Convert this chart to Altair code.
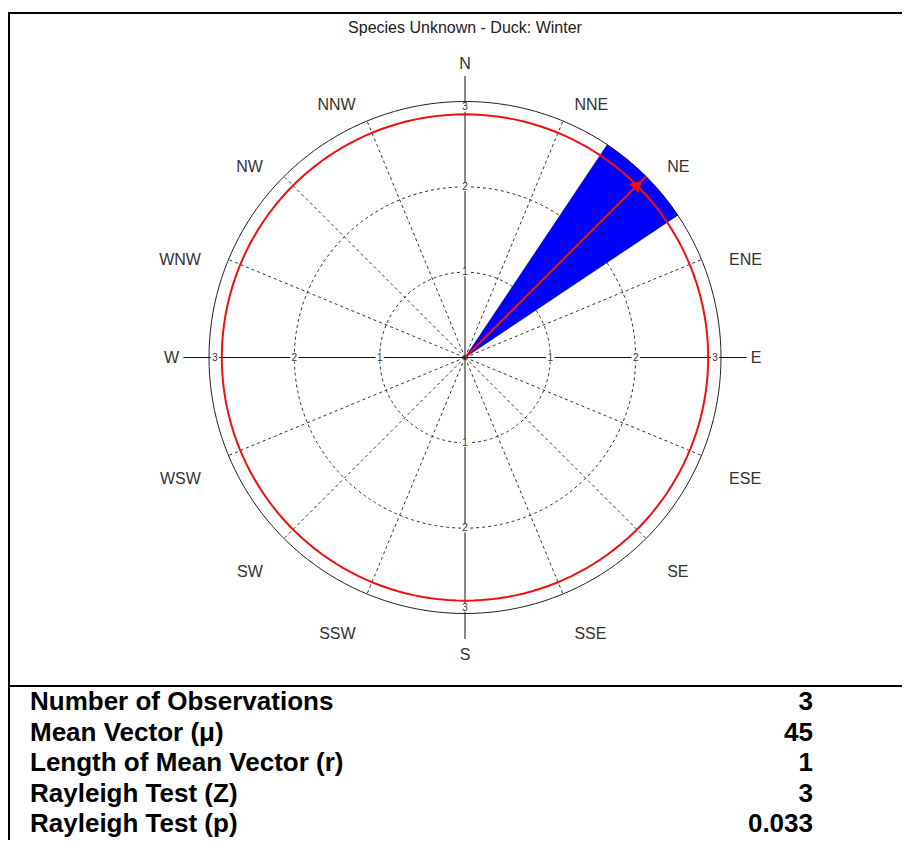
import math
import altair as alt
import numpy as np
import pandas as pd

# ---------------- data ----------------
title_text = "Species Unknown - Duck: Winter"
sectors = ["N", "NNE", "NE", "ENE", "E", "ESE", "SE", "SSE",
           "S", "SSW", "SW", "WSW", "W", "WNW", "NW", "NNW"]
counts = [0, 0, 3, 0, 0, 0, 0, 0, 0, 0, 0, 0, 0, 0, 0, 0]
ring_ticks = [1, 2, 3]
max_r = 3
red_ring_r = 2.85
mean_angle = 45
mean_length = 1
table_labels = ["Number of Observations", "Mean Vector (\u03bc)",
                "Length of Mean Vector (r)", "Rayleigh Test (Z)",
                "Rayleigh Test (p)"]
table_values = ["3", "45", "1", "3", "0.033"]

# ---------------- geometry helpers ----------------
W, H = 894, 832
cx_px, cy_px = 457, 349.5
unit = 256 / 3.0
xdom = [-cx_px / unit, (W - cx_px) / unit]
ydom = [-(H - cy_px) / unit, cy_px / unit]
xs = alt.Scale(domain=xdom, range=[0, W], nice=False, zero=False)
ys = alt.Scale(domain=ydom, range=[H, 0], nice=False, zero=False)
FONT = "Liberation Sans"
bin_w = 360 / len(sectors)

def pol(r, a):
    return r * math.sin(math.radians(a)), r * math.cos(math.radians(a))

def XY(xf="x", yf="y"):
    return dict(x=alt.X(f"{xf}:Q", scale=xs, axis=None),
                y=alt.Y(f"{yf}:Q", scale=ys, axis=None))

# circles
circ_rows = []
for name, r in [("d1", 1), ("d2", 2), ("red", red_ring_r), ("outer", max_r)]:
    for a in range(0, 361, 2):
        x, y = pol(r, a)
        circ_rows.append({"ring": name, "a": a, "x": x, "y": y})
circ = pd.DataFrame(circ_rows)

def circle_layer(name, color, dash=None, width=1.0):
    kw = dict(color=color, strokeWidth=width)
    if dash:
        kw["strokeDash"] = dash
    return alt.Chart(circ[circ.ring == name]).mark_line(**kw).encode(
        order="a:Q", **XY())

# radial lines
dir_rows = []
for i, s in enumerate(sectors):
    a = i * bin_w
    card = (i % 4 == 0)
    r_end = 3.3 if card else max_r
    x2, y2 = pol(r_end, a)
    dir_rows.append({"name": s, "a": a, "card": card, "x": 0.0, "y": 0.0,
                     "x2": x2, "y2": y2})
dirs = pd.DataFrame(dir_rows)

radial_dashed = alt.Chart(dirs[~dirs.card]).mark_rule(
    color="#333", strokeWidth=1, strokeDash=[3, 3]).encode(
    x2="x2:Q", y2="y2:Q", **XY())
radial_solid = alt.Chart(dirs[dirs.card]).mark_rule(
    color="#111", strokeWidth=1).encode(x2="x2:Q", y2="y2:Q", **XY())

# wedges
wedge_rows = []
for i, c in enumerate(counts):
    if c > 0:
        wedge_rows.append({"sector": sectors[i], "start": i * bin_w - bin_w / 2,
                           "end": i * bin_w + bin_w / 2, "count": c,
                           "cx": 0.0, "cy": 0.0})
wedges = pd.DataFrame(wedge_rows)
wedge = alt.Chart(wedges).mark_arc(color="#0000ff", stroke="#000033",
                                   strokeWidth=0.5).encode(
    theta=alt.Theta("start:Q", scale=alt.Scale(domain=[0, 360], range=[0, 2 * math.pi])),
    theta2="end:Q",
    radius=alt.Radius("count:Q", scale=alt.Scale(type="linear", domain=[0, max_r],
                                                 range=[0, max_r * unit], zero=True)),
    **XY("cx", "cy"),
)

# tick labels on cardinal axes
tick_rows = []
for a in [0, 90, 180, 270]:
    for v in ring_ticks:
        rp = min(v, 2.93)
        x, y = pol(rp, a)
        tick_rows.append({"v": str(v), "x": x, "y": y})
ticks = pd.DataFrame(tick_rows)
tick_bg = alt.Chart(ticks).mark_square(color="white", size=70, opacity=1).encode(**XY())
tick_txt = alt.Chart(ticks).mark_text(font=FONT, fontSize=10, color="#333").encode(
    text="v:N", **XY())

# compass labels, anchored just outside the outer circle
lab_rows = []
for i, s in enumerate(sectors):
    a = i * bin_w
    x, y = pol(3.35, a)
    if a == 0:
        grp = "n"
    elif a == 180:
        grp = "s"
    elif a == 90:
        grp = "e"
    elif a == 270:
        grp = "w"
    elif a < 180:
        grp = "east"
    else:
        grp = "west"
    lab_rows.append({"name": s, "x": x, "y": y, "grp": grp})
labs = pd.DataFrame(lab_rows)
lab_style = {"n": ("center", "bottom", 0), "s": ("center", "top", 4),
             "e": ("left", "middle", 0), "w": ("right", "middle", 0),
             "east": ("left", "top", 4), "west": ("right", "top", 4)}
compass_layers = []
for g, (al, bl, dy) in lab_style.items():
    compass_layers.append(
        alt.Chart(labs[labs.grp == g]).mark_text(
            font=FONT, fontSize=16, color="#333", align=al, baseline=bl,
            dy=dy).encode(text="name:N", **XY()))

# mean vector arrow
alen = mean_length * max_r
ax2, ay2 = pol(alen, mean_angle)
hx, hy = pol(alen * 0.955, mean_angle)
arrow_df = pd.DataFrame([{"x": 0.0, "y": 0.0, "x2": ax2, "y2": ay2,
                          "hx": hx, "hy": hy}])
arrow_line = alt.Chart(arrow_df).mark_rule(color="#ee1111", strokeWidth=2).encode(
    x2="x2:Q", y2="y2:Q", **XY())
arrow_head = alt.Chart(arrow_df).mark_point(
    shape="triangle-up", filled=True, color="#ee1111", opacity=1,
    size=170, angle=mean_angle).encode(**XY("hx", "hy"))

# title
title_df = pd.DataFrame([{"t": title_text, "x": 0.0, "y": (cy_px - 20) / unit}])
title = alt.Chart(title_df).mark_text(font=FONT, fontSize=16, color="#222").encode(
    text="t:N", **XY())

# frame
frame_df = pd.DataFrame([{"k": 1}])
frame_top = alt.Chart(frame_df).mark_rule(color="black", strokeWidth=2).encode(
    x=alt.value(0), x2=alt.value(W), y=alt.value(5))
frame_left = alt.Chart(frame_df).mark_rule(color="black", strokeWidth=2).encode(
    x=alt.value(1), y=alt.value(5), y2=alt.value(H))
frame_mid = alt.Chart(frame_df).mark_rule(color="black", strokeWidth=2).encode(
    x=alt.value(0), x2=alt.value(W), y=alt.value(678))

polar = alt.layer(
    circle_layer("d1", "#333", [3, 3]),
    circle_layer("d2", "#333", [3, 3]),
    radial_dashed, radial_solid,
    circle_layer("outer", "#222", None, 1.0),
    wedge,
    circle_layer("red", "#ee1111", None, 2.0),
    arrow_line, arrow_head,
    tick_bg, tick_txt, *compass_layers, title,
    frame_top, frame_left, frame_mid,
)

# table
table_df = pd.DataFrame({"row": list(range(len(table_labels))),
                         "label": table_labels, "value": table_values})
ty = alt.Scale(type="point", domain=list(range(len(table_labels))),
               range=[694, 816], padding=0)
tab_lab = alt.Chart(table_df).mark_text(
    font=FONT, fontSize=26, fontWeight="bold", align="left", color="black").encode(
    x=alt.value(22), y=alt.Y("row:O", scale=ty, axis=None), text="label:N")
tab_val = alt.Chart(table_df).mark_text(
    font=FONT, fontSize=26, fontWeight="bold", align="right", color="black").encode(
    x=alt.value(805), y=alt.Y("row:O", scale=ty, axis=None), text="value:N")
table = alt.layer(tab_lab, tab_val)

chart = alt.layer(polar, table).resolve_scale(y="independent").properties(
    width=W, height=H, padding=0, autosize="none"
).configure_view(stroke=None)

chart.save("out.html", embed_options={"renderer": "svg", "actions": False})
